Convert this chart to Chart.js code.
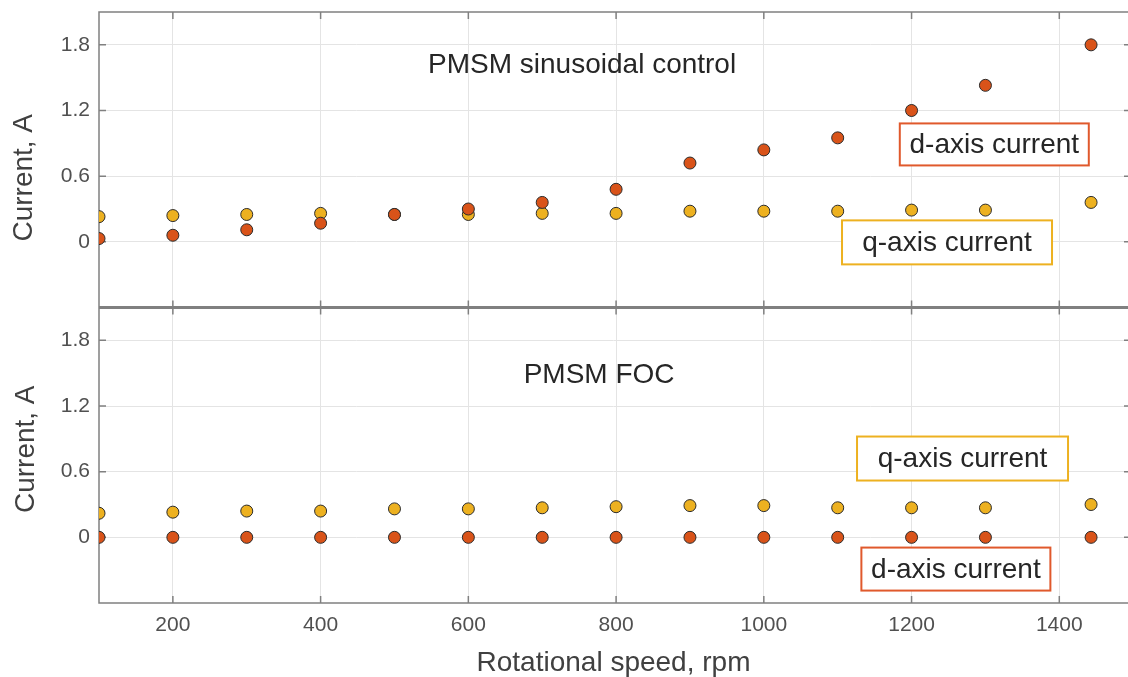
<!DOCTYPE html>
<html>
<head>
<meta charset="utf-8">
<title>PMSM currents</title>
<script src="https://cdn.jsdelivr.net/npm/chart.js@4/dist/chart.umd.min.js"></script>
<style>
    html, body { margin: 0; padding: 0; background: #fff; overflow: hidden; }
    canvas { display: block; }
</style>
</head>
<body>
<canvas id="currentChart" width="1128" height="677"></canvas>
<script>
// Rotational speed, rpm
const speeds = [100, 200, 300, 400, 500, 600, 700, 800, 900, 1000, 1100, 1200, 1300, 1443];

// PMSM sinusoidal control (top panel), A
const sinD = [0.03, 0.06, 0.11, 0.17, 0.25, 0.30, 0.36, 0.48, 0.72, 0.84, 0.95, 1.20, 1.43, 1.80];
const sinQ = [0.23, 0.24, 0.25, 0.26, 0.25, 0.25, 0.26, 0.26, 0.28, 0.28, 0.28, 0.29, 0.29, 0.36];

// PMSM FOC (bottom panel), A
const focD = [0, 0, 0, 0, 0, 0, 0, 0, 0, 0, 0, 0, 0, 0];
const focQ = [0.22, 0.23, 0.24, 0.24, 0.26, 0.26, 0.27, 0.28, 0.29, 0.29, 0.27, 0.27, 0.27, 0.30];

// Tick labels
const xTicks = [200, 400, 600, 800, 1000, 1200, 1400];
const yTicks = [0, 0.6, 1.2, 1.8];

const RED = '#D95319';
const YELLOW = '#EDB120';
const FONT = '"Liberation Sans", Arial, Helvetica, sans-serif';

function points(values) {
    return speeds.map((s, i) => ({ x: s, y: values[i] }));
}

function markerSet(label, values, color, axis) {
    return {
        label: label,
        data: points(values),
        yAxisID: axis,
        backgroundColor: color,
        borderColor: '#2b2b2b',
        borderWidth: 1,
        pointRadius: 6,
        showLine: false
    };
}

// Axis box, inward tick marks and the two panels' frames
const panelFrame = {
    id: 'panelFrame',
    beforeDatasetsDraw(chart) {
        const { ctx, chartArea } = chart;
        const x = chart.scales.x;
        const top = chart.scales.yTop;
        const bot = chart.scales.yBot;
        ctx.save();
        ctx.strokeStyle = '#808080';
        ctx.lineWidth = 1.5;
        ctx.beginPath();
        ctx.moveTo(chartArea.right, top.top);
        ctx.lineTo(chartArea.left, top.top);
        ctx.lineTo(chartArea.left, bot.bottom);
        ctx.lineTo(chartArea.right, bot.bottom);
        ctx.stroke();

        ctx.lineWidth = 3;
        ctx.beginPath();
        ctx.moveTo(chartArea.left, top.bottom);
        ctx.lineTo(chartArea.right, top.bottom);
        ctx.stroke();

        // tick marks
        ctx.lineWidth = 1.5;
        const len = 7;
        ctx.beginPath();
        xTicks.forEach(v => {
            const px = x.getPixelForValue(v);
            ctx.moveTo(px, top.top); ctx.lineTo(px, top.top + len);
            ctx.moveTo(px, top.bottom - len); ctx.lineTo(px, top.bottom);
            ctx.moveTo(px, bot.top); ctx.lineTo(px, bot.top + len);
            ctx.moveTo(px, bot.bottom - len); ctx.lineTo(px, bot.bottom);
        });
        [top, bot].forEach(sc => {
            yTicks.forEach(v => {
                const py = sc.getPixelForValue(v);
                ctx.moveTo(chartArea.left, py); ctx.lineTo(chartArea.left + len, py);
                ctx.moveTo(chartArea.right - 4, py); ctx.lineTo(chartArea.right, py);
            });
        });
        ctx.stroke();

        // y axis titles (placed like the original, not centred on the panel)
        ctx.fillStyle = '#404040';
        ctx.font = '28px ' + FONT;
        ctx.textAlign = 'center';
        ctx.textBaseline = 'middle';
        [[top, 24, 18], [bot, 26, -6]].forEach(([sc, tx, shift]) => {
            ctx.save();
            ctx.translate(tx, (sc.top + sc.bottom) / 2 + shift);
            ctx.rotate(-Math.PI / 2);
            ctx.fillText('Current, A', 0, 0);
            ctx.restore();
        });
        ctx.restore();
    }
};

// Text notes and boxed labels placed in data coordinates
const panelNotes = {
    id: 'panelNotes',
    afterDatasetsDraw(chart, args, opts) {
        const ctx = chart.ctx;
        const x = chart.scales.x;
        ctx.save();
        ctx.textAlign = 'center';
        ctx.textBaseline = 'middle';
        opts.notes.forEach(n => {
            const sc = chart.scales[n.axis];
            const cx = x.getPixelForValue(n.x);
            const cy = sc.getPixelForValue(n.y);
            if (n.box) {
                ctx.fillStyle = '#fff';
                ctx.fillRect(cx - n.w / 2, cy - n.h / 2, n.w, n.h);
                ctx.strokeStyle = n.box;
                ctx.lineWidth = 2;
                ctx.strokeRect(cx - n.w / 2, cy - n.h / 2, n.w, n.h);
            }
            ctx.fillStyle = '#262626';
            ctx.font = n.size + 'px ' + FONT;
            ctx.fillText(n.text, cx, cy + 1);
        });
        ctx.restore();
    }
};

function yScale() {
    return {
        type: 'linear',
        position: 'left',
        stack: 'panels',
        stackWeight: 1,
        min: -0.6,
        max: 2.1,
        afterBuildTicks: scale => { scale.ticks = yTicks.map(v => ({ value: v })); },
        afterFit: scale => {
            scale.width = 99;
            scale.paddingTop = 0;
            scale.paddingBottom = 0;
        },
        border: { display: false },
        grid: { color: '#e4e4e4', lineWidth: 1, drawTicks: false },
        ticks: {
            padding: 9,
            color: '#505050',
            font: { family: FONT, size: 21 },
            callback: v => String(v)
        }
    };
}

const ctx = document.getElementById('currentChart').getContext('2d');
new Chart(ctx, {
    type: 'scatter',
    data: {
        datasets: [
            markerSet('d-axis current (sinusoidal)', sinD, RED, 'yTop'),
            markerSet('q-axis current (sinusoidal)', sinQ, YELLOW, 'yTop'),
            markerSet('d-axis current (FOC)', focD, RED, 'yBot'),
            markerSet('q-axis current (FOC)', focQ, YELLOW, 'yBot')
        ]
    },
    options: {
        responsive: false,
        animation: false,
        layout: { autoPadding: false, padding: { top: 12, right: 0, bottom: 0, left: 0 } },
        scales: {
            x: {
                type: 'linear',
                min: 100,
                max: 1493,
                afterBuildTicks: scale => { scale.ticks = xTicks.map(v => ({ value: v })); },
                afterFit: scale => {
                    scale.height = 74;
                    scale.paddingLeft = 0;
                    scale.paddingRight = 0;
                },
                border: { display: false },
                grid: { color: '#e4e4e4', lineWidth: 1, drawTicks: false },
                ticks: {
                    padding: 10,
                    color: '#505050',
                    font: { family: FONT, size: 21 },
                    maxRotation: 0,
                    callback: v => String(v)
                },
                title: {
                    display: true,
                    text: 'Rotational speed, rpm',
                    color: '#404040',
                    font: { family: FONT, size: 28, lineHeight: 1 },
                    padding: { top: 0, bottom: 0 }
                }
            },
            yBot: yScale(),
            yTop: yScale()
        },
        plugins: {
            legend: { display: false },
            tooltip: { enabled: false },
            panelNotes: {
                notes: [
                    { text: 'PMSM sinusoidal control', axis: 'yTop', x: 754, y: 1.625, size: 28 },
                    { text: 'PMSM FOC', axis: 'yBot', x: 777, y: 1.49, size: 28 },
                    { text: 'd-axis current', axis: 'yTop', x: 1312, y: 0.89, size: 28, box: '#E0592C', w: 189, h: 42 },
                    { text: 'q-axis current', axis: 'yTop', x: 1248, y: -0.005, size: 28, box: '#EDB120', w: 210, h: 44 },
                    { text: 'q-axis current', axis: 'yBot', x: 1269, y: 0.72, size: 28, box: '#EDB120', w: 211, h: 44 },
                    { text: 'd-axis current', axis: 'yBot', x: 1260, y: -0.29, size: 28, box: '#E0592C', w: 189, h: 43 }
                ]
            }
        }
    },
    plugins: [panelFrame, panelNotes]
});
</script>
</body>
</html>
